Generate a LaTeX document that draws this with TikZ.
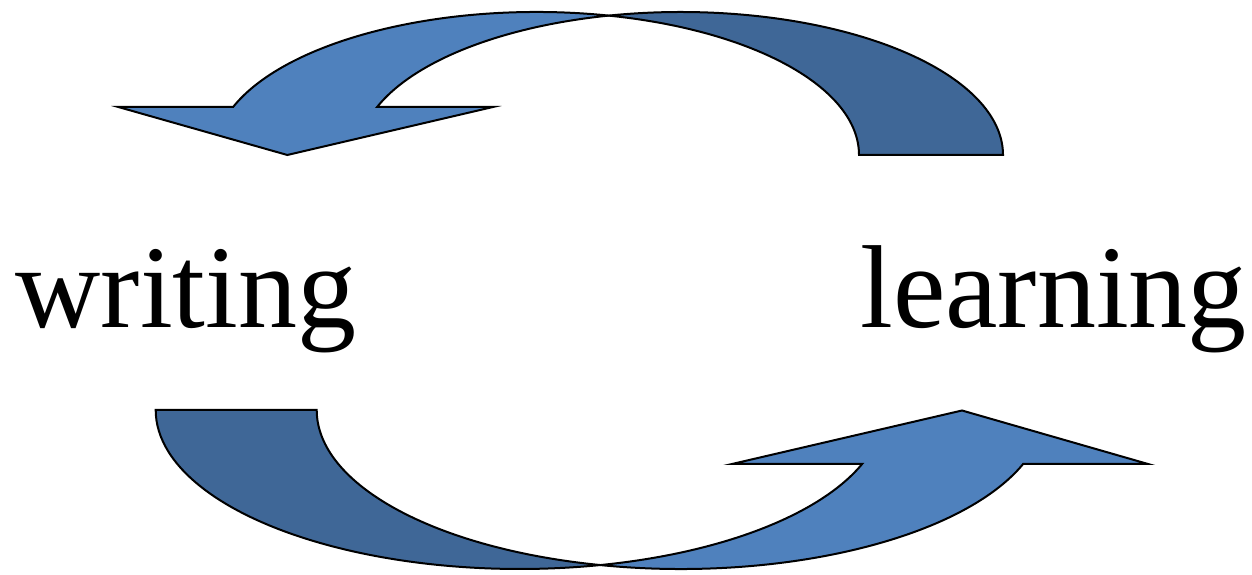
\documentclass[tikz,border=0pt]{standalone}
\usepackage{fontspec}
\setmainfont{Liberation Serif}
\definecolor{arrowlight}{HTML}{4F81BD}
\definecolor{arrowdark}{HTML}{3F6797}
\begin{document}
\begin{tikzpicture}[x=1pt,y=1pt,
  lightpart/.style={fill=arrowlight,draw=black,line width=2pt,line join=miter},
  darkpart/.style={fill=arrowdark,draw=black,line width=2pt,line join=miter},
  ellA/.style={x radius=322.3,y radius=143},
  ellC/.style={x radius=364,y radius=159},
  word/.style={anchor=base west,inner sep=0pt,font=\fontsize{118}{130}\selectfont}]
\useasboundingbox (0,0) rectangle (1252,575);
% top arrow (points down on the left)
\draw[lightpart] (233.1,468) arc[start angle=160.39,end angle=77.09,ellA]
  arc[start angle=102.91,end angle=160.39,ellA]
  -- (493,468) -- (287.3,420) -- (118.3,468) -- cycle;
\draw[darkpart] (859,420) arc[start angle=0,end angle=77.09,ellA]
  arc[start angle=102.91,end angle=0,ellA] -- cycle;
% bottom arrow (points up on the right)
\draw[darkpart] (155.7,165) arc[start angle=180,end angle=282.78,ellC]
  arc[start angle=257.22,end angle=180,ellC] -- cycle;
\draw[lightpart] (862.1,111) arc[start angle=340.15,end angle=282.78,ellC]
  arc[start angle=257.22,end angle=340.15,ellC]
  -- (1148,111) -- (962,164.5) -- (732,111) -- cycle;
% labels
\node[word] (writing) at (15.5,247) {writing};
\node[word] (learning) at (860,247) {learning};
\end{tikzpicture}
\end{document}
